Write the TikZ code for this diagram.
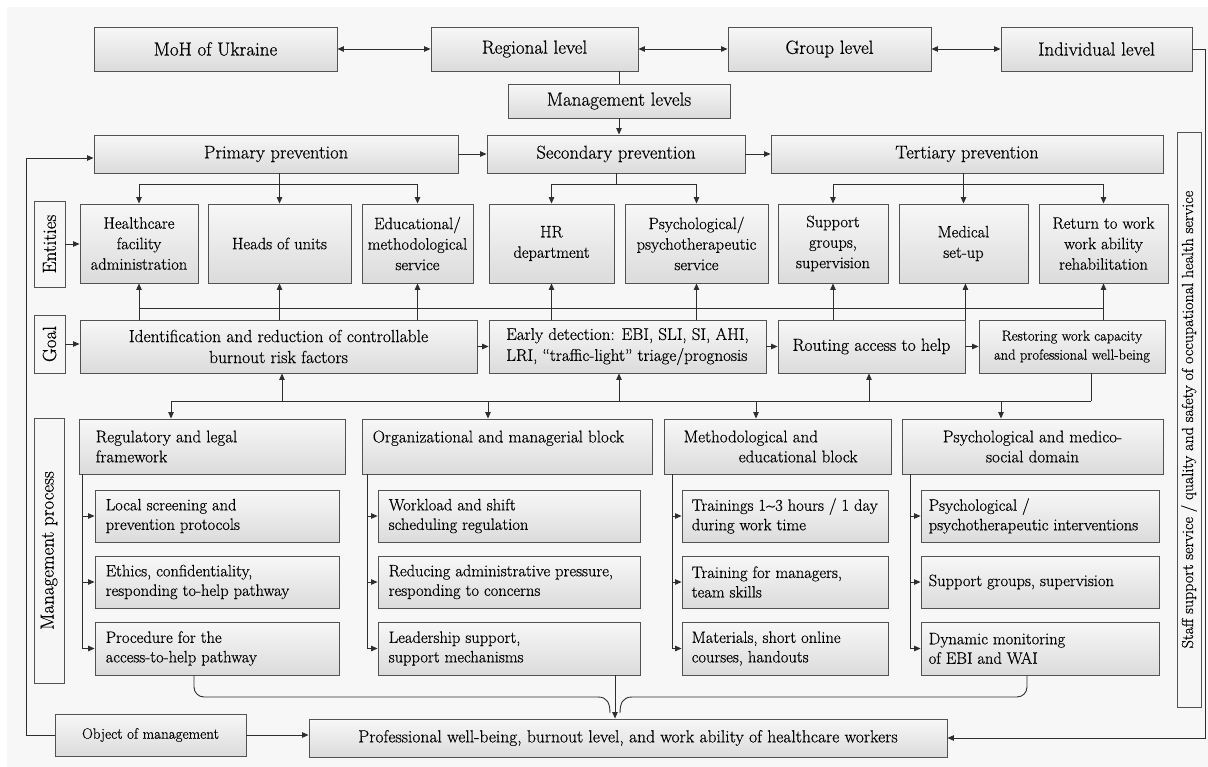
\documentclass[tikz,border=0pt]{standalone}
\usepackage{fontspec}
\setmainfont{Latin Modern Roman}[FakeBold=0.45]
\usetikzlibrary{arrows.meta}
\newcommand\fTop{\fontsize{19}{22}\selectfont}
\newcommand\fPrev{\fontsize{18.5}{22}\selectfont}
\newcommand\fEnt{\fontsize{16.5}{20.5}\selectfont}
\newcommand\fGoal{\fontsize{17.5}{21}\selectfont}
\newcommand\fGoalB{\fontsize{17}{21}\selectfont}
\newcommand\fRest{\fontsize{14.5}{19}\selectfont}
\newcommand\fSub{\fontsize{16.5}{19.5}\selectfont}
\newcommand\fBlk{\fontsize{17}{20}\selectfont}
\newcommand\fSmall{\fontsize{15}{17}\selectfont}
\newcommand\fProf{\fontsize{17.5}{20}\selectfont}
\newcommand\fLab{\fontsize{19}{22}\selectfont}
\newcommand\fStaff{\fontsize{16}{18}\selectfont}
% centered box: [style]{name}{x1}{y1}{x2}{y2}{text}
\newcommand\bx[7][]{%
  \pgfmathsetmacro\bxcx{(#3+#5)/2}%
  \pgfmathsetmacro\bxcy{(#4+#6)/2}%
  \pgfmathsetmacro\bxw{#5-#3}%
  \pgfmathsetmacro\bxh{#6-#4}%
  \node[box,minimum width=\bxw pt,minimum height=\bxh pt,#1] (#2) at (\bxcx,\bxcy) {#7};}
% left-aligned box: [pad]{name}{x1}{y1}{x2}{y2}{font}{text}
\newcommand\lbx[8][11]{%
  \bx{#2}{#3}{#4}{#5}{#6}{}%
  \node[anchor=west,align=left,inner sep=0pt,font=#7] at ([xshift=#1pt]#2.west) {#8};}
% vertical label box: {name}{x1}{y1}{x2}{y2}{font}{text}
\newcommand\vbx[7]{%
  \pgfmathsetmacro\bxcx{(#2+#4)/2}%
  \pgfmathsetmacro\bxcy{(#3+#5)/2}%
  \pgfmathsetmacro\bxw{#4-#2}%
  \pgfmathsetmacro\bxh{#5-#3}%
  \node[lab,rotate=90,minimum width=\bxh pt,minimum height=\bxw pt,font=#6] (#1) at (\bxcx,\bxcy) {#7};}
\begin{document}
\begin{tikzpicture}[x=1pt,y=-1pt,
  box/.style={draw=black!68,line width=0.9pt,top color=gray!6,bottom color=gray!28,inner sep=0pt,align=center},
  lab/.style={draw=black!68,line width=0.9pt,fill=gray!7,inner sep=0pt},
  ln/.style={line width=0.9pt,draw=black!82},
  arr/.style={ln,-{Triangle[length=6.5pt,width=5.5pt]}},
  dbl/.style={ln,{Triangle[length=6.5pt,width=5.5pt]}-{Triangle[length=6.5pt,width=5.5pt]}}]
\useasboundingbox (0,0) rectangle (1208,767);
\fill[black!3] (7,7) rectangle (1208,767);

% ---- management levels
\bx[font=\fTop]{mo}{94}{27}{337}{71}{MoH of Ukraine}
\bx[font=\fTop]{reg}{431}{27}{638}{71}{Regional level}
\bx[font=\fTop]{grp}{728}{27}{931}{71}{Group level}
\bx[font=\fTop]{ind}{1001}{27}{1192}{71}{Individual level}
\draw[dbl] (mo) -- (reg);
\draw[dbl] (reg) -- (grp);
\draw[dbl] (grp) -- (ind);
\bx[font=\fTop]{ml}{508}{84}{730}{118}{Management levels}
\draw[ln] (ml.north |- reg.south) -- (ml.north);

% ---- prevention
\bx[font=\fPrev]{pp}{94}{135}{458}{173}{Primary prevention}
\bx[font=\fPrev]{sp}{487}{135}{745}{173}{Secondary prevention}
\bx[font=\fPrev]{tp}{771}{135}{1163}{173}{Tertiary prevention}
\draw[arr] (ml.south) -- (ml.south |- sp.north);
\draw[arr] (pp) -- (sp);
\draw[arr] (sp) -- (tp);

% ---- entities
\bx[font=\fEnt]{e1}{80}{204}{198}{283}{Healthcare\\facility\\administration}
\bx[font=\fEnt]{e2}{208}{204}{351}{283}{Heads of units}
\bx[font=\fEnt]{e3}{362}{204}{473}{283}{Educational/\\methodological\\service}
\bx[font=\fEnt]{e4}{489}{204}{614}{283}{HR\\department}
\bx[font=\fEnt]{e5}{625}{204}{768}{283}{Psychological/\\psychotherapeutic\\service}
\bx[font=\fEnt]{e6}{778}{204}{888}{283}{Support\\groups,\\supervision}
\bx[font=\fEnt]{e7}{899}{204}{1028}{283}{Medical\\set-up}
\bx[font=\fEnt]{e8}{1039}{204}{1168}{283}{Return to work\\work ability\\rehabilitation}

\coordinate (yP) at (0,184);
\draw[ln] (e2.north |- pp.south) -- (e2.north |- yP);
\draw[ln] (e1.north |- yP) -- (e3.north |- yP);
\draw[ln] (sp.south) -- (sp.south |- yP);
\draw[ln] (e4.north |- yP) -- (e5.north |- yP);
\draw[ln] (e7.north |- tp.south) -- (e7.north |- yP);
\draw[ln] (e6.north |- yP) -- (e8.north |- yP);
\foreach \e in {e1,e2,e3,e4,e5,e6,e7,e8}
  \draw[arr] (\e.north |- yP) -- (\e.north);

% ---- labels
\vbx{lE}{34}{201}{65}{287}{\fLab}{Entities}
\vbx{lG}{34}{315}{65}{373}{\fLab}{Goal}
\vbx{lM}{34}{418}{64}{683}{\fLab}{Management process}
\vbx{st}{1177}{132}{1201}{707}{\fStaff}{Staff support service / quality and safety of occupational health service}

% ---- goals
\bx[font=\fGoal]{g1}{80}{320}{477}{373}{Identification and reduction of controllable\\burnout risk factors}
\bx[font=\fGoalB,align=left]{g2}{489}{320}{766}{373}{Early detection: EBI, SLI, SI, AHI,\\LRI, ``traffic-light'' triage/prognosis}
\bx[font=\fGoal]{g3}{778}{320}{965}{373}{Routing access to help}
\bx[font=\fRest]{g4}{979}{320}{1165}{373}{Restoring work capacity\\and professional well-being}
\draw[arr] (lE.south) -- (lE.south -| e1.west);
\draw[arr] (lG.south) -- (lG.south -| g1.west);
\draw[arr] (g1) -- (g2);
\draw[arr] (g2) -- (g3);
\draw[arr] (g3) -- (g4);

\coordinate (yU) at (0,308);
\draw[ln] (e1.south |- yU) -- (e8.south |- yU);
\foreach \e/\g in {e1/g1,e2/g1,e3/g1,e4/g2,e5/g2,e6/g3,e8/g4}
  \draw[arr] (\e.south |- \g.north) -- (\e.south);
\draw[arr] (g3.north east) -- (g3.north east |- e7.south);

% ---- management process blocks
\lbx[17]{b1}{79}{419}{345}{474}{\fBlk}{Regulatory and legal\\framework}
\lbx[11]{b2}{362}{419}{652}{474}{\fBlk}{Organizational and managerial block\\\mbox{}}
\lbx[20]{b3}{664}{419}{891}{474}{\fBlk}{Methodological and\\\hspace*{55pt}educational block}
\bx[font=\fBlk]{b4}{902}{419}{1163}{474}{Psychological and medico-\\social domain}

\coordinate (a1) at (171,401);
\coordinate (a2) at (488,401);
\coordinate (a3) at (756,401);
\coordinate (a4) at (1001,401);
\coordinate (u1) at (282,401);
\coordinate (u2) at (619,401);
\coordinate (u3) at (869,401);
\coordinate (a9) at (1091,401);
\draw[ln] (a1) -- (a9);
\draw[ln] (a9 |- g4.south) -- (a9);
\draw[arr] (a1) -- (a1 |- b1.north);
\draw[arr] (a2) -- (a2 |- b2.north);
\draw[arr] (a3) -- (a3 |- b3.north);
\draw[arr] (a4) -- (a4 |- b4.north);
\draw[arr] (u1) -- (u1 |- g1.south);
\draw[arr] (u2) -- (u2 |- g2.south);
\draw[arr] (u3) -- (u3 |- g3.south);

% ---- sub-items
\lbx{c11}{95}{490}{339}{542}{\fSub}{Local screening and\\prevention protocols}
\lbx{c12}{95}{556}{339}{608}{\fSub}{Ethics, confidentiality,\\responding to-help pathway}
\lbx{c13}{95}{622}{339}{675}{\fSub}{Procedure for the\\access-to-help pathway}
\lbx{c21}{378}{490}{640}{542}{\fSub}{Workload and shift\\scheduling regulation}
\lbx{c22}{378}{556}{640}{608}{\fSub}{Reducing administrative pressure,\\responding to concerns}
\lbx{c23}{378}{622}{640}{675}{\fSub}{Leadership support,\\support mechanisms}
\lbx[10]{c31}{682}{490}{888}{542}{\fSub}{Trainings 1\textasciitilde3 hours / 1 day\\during work time}
\lbx[10]{c32}{682}{556}{888}{608}{\fSub}{Training for managers,\\team skills}
\lbx[10]{c33}{682}{622}{888}{675}{\fSub}{Materials, short online\\courses, handouts}
\lbx[8]{c41}{921}{490}{1159}{542}{\fSub}{Psychological /\\psychotherapeutic interventions}
\lbx[8]{c42}{921}{556}{1159}{608}{\fSub}{Support groups, supervision}
\lbx[8]{c43}{921}{622}{1159}{675}{\fSub}{Dynamic monitoring\\of EBI and WAI}

\coordinate (v1) at (82,0);
\coordinate (v2) at (367,0);
\coordinate (v3) at (672,0);
\coordinate (v4) at (910,0);
\draw[ln] (v1 |- b1.south) -- (v1 |- c13.west);
\draw[ln] (v2 |- b2.south) -- (v2 |- c23.west);
\draw[ln] (v3 |- b3.south) -- (v3 |- c33.west);
\draw[ln] (v4 |- b4.south) -- (v4 |- c43.west);
\foreach \r in {c11,c12,c13} \draw[arr] (v1 |- \r.west) -- (\r.west);
\foreach \r in {c21,c22,c23} \draw[arr] (v2 |- \r.west) -- (\r.west);
\foreach \r in {c31,c32,c33} \draw[arr] (v3 |- \r.west) -- (\r.west);
\foreach \r in {c41,c42,c43} \draw[arr] (v4 |- \r.west) -- (\r.west);

% ---- bottom
\bx[font=\fSmall]{om}{55}{714}{246}{756}{Object of management}
\bx[font=\fProf]{pw}{309}{719}{947}{757}{Professional well-being, burnout level, and work ability of healthcare workers}
\draw[arr] (om.east) -- (om.east -| pw.west);

\coordinate (k1) at (194,697);
\coordinate (k2) at (1027,697);
\coordinate (kx) at (615,0);
\draw[ln,rounded corners=10pt] (c13.south -| k1) -- (k1) -- (598,697);
\draw[ln] (598,697) .. controls (607,697) and (610,703) .. (610,713);
\draw[ln,rounded corners=10pt] (c43.south -| k2) -- (k2) -- (632,697);
\draw[ln] (632,697) .. controls (623,697) and (620,703) .. (620,713);
\draw[arr] (c23.south -| kx) -- (kx |- pw.north);

\coordinate (lx) at (26,0);
\coordinate (rx) at (1205,0);
\draw[arr] (om.west) -- (om.west -| lx) |- ([yshift=-4pt]pp.west);
\draw[arr] (ind.east) -- (ind.east -| rx) |- (pw.east);
\end{tikzpicture}
\end{document}
